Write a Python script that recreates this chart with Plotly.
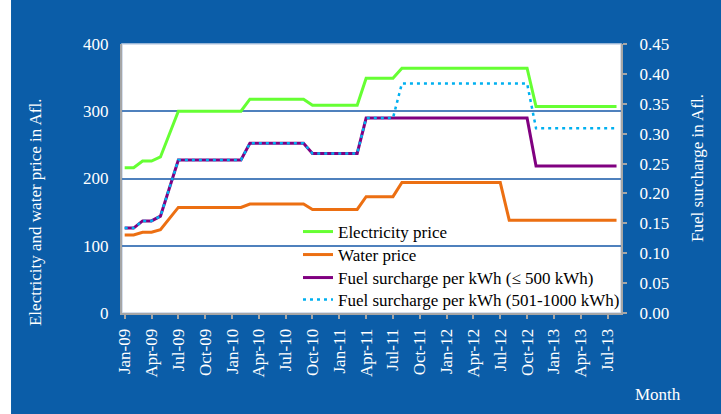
import plotly.graph_objects as go

months = [
    "Jan-09", "Feb-09", "Mar-09", "Apr-09", "May-09", "Jun-09", "Jul-09", "Aug-09", "Sep-09", "Oct-09", "Nov-09", "Dec-09",
    "Jan-10", "Feb-10", "Mar-10", "Apr-10", "May-10", "Jun-10", "Jul-10", "Aug-10", "Sep-10", "Oct-10", "Nov-10", "Dec-10",
    "Jan-11", "Feb-11", "Mar-11", "Apr-11", "May-11", "Jun-11", "Jul-11", "Aug-11", "Sep-11", "Oct-11", "Nov-11", "Dec-11",
    "Jan-12", "Feb-12", "Mar-12", "Apr-12", "May-12", "Jun-12", "Jul-12", "Aug-12", "Sep-12", "Oct-12", "Nov-12", "Dec-12",
    "Jan-13", "Feb-13", "Mar-13", "Apr-13", "May-13", "Jun-13", "Jul-13", "Aug-13",
]

electricity = [
    216, 216, 226, 226, 232, 266, 300, 300, 300, 300, 300, 300,
    300, 300, 318, 318, 318, 318, 318, 318, 318, 309, 309, 309,
    309, 309, 309, 349, 349, 349, 349, 364, 364, 364, 364, 364,
    364, 364, 364, 364, 364, 364, 364, 364, 364, 364, 307, 307,
    307, 307, 307, 307, 307, 307, 307, 307,
]

water = [
    116, 116, 120, 120, 124, 141, 157, 157, 157, 157, 157, 157,
    157, 157, 162, 162, 162, 162, 162, 162, 162, 154, 154, 154,
    154, 154, 154, 173, 173, 173, 173, 194, 194, 194, 194, 194,
    194, 194, 194, 194, 194, 194, 194, 138, 138, 138, 138, 138,
    138, 138, 138, 138, 138, 138, 138, 138,
]

fuel_low = [
    0.142, 0.142, 0.154, 0.154, 0.162, 0.209, 0.256, 0.256, 0.256, 0.256, 0.256, 0.256,
    0.256, 0.256, 0.284, 0.284, 0.284, 0.284, 0.284, 0.284, 0.284, 0.267, 0.267, 0.267,
    0.267, 0.267, 0.267, 0.326, 0.326, 0.326, 0.326, 0.326, 0.326, 0.326, 0.326, 0.326,
    0.326, 0.326, 0.326, 0.326, 0.326, 0.326, 0.326, 0.326, 0.326, 0.326, 0.246, 0.246,
    0.246, 0.246, 0.246, 0.246, 0.246, 0.246, 0.246, 0.246,
]

fuel_high = [
    0.142, 0.142, 0.154, 0.154, 0.162, 0.209, 0.256, 0.256, 0.256, 0.256, 0.256, 0.256,
    0.256, 0.256, 0.284, 0.284, 0.284, 0.284, 0.284, 0.284, 0.284, 0.267, 0.267, 0.267,
    0.267, 0.267, 0.267, 0.326, 0.326, 0.326, 0.326, 0.384, 0.384, 0.384, 0.384, 0.384,
    0.384, 0.384, 0.384, 0.384, 0.384, 0.384, 0.384, 0.384, 0.384, 0.384, 0.309, 0.309,
    0.309, 0.309, 0.309, 0.309, 0.309, 0.309, 0.309, 0.309,
]

tick_months = ["Jan-09", "Apr-09", "Jul-09", "Oct-09", "Jan-10", "Apr-10", "Jul-10", "Oct-10",
               "Jan-11", "Apr-11", "Jul-11", "Oct-11", "Jan-12", "Apr-12", "Jul-12", "Oct-12",
               "Jan-13", "Apr-13", "Jul-13"]

FONT = "'Liberation Serif', 'Times New Roman', Times, serif"
BLUE = "#0B5DA8"
AXIS_GRAY = "#A6A6A6"

fig = go.Figure()
fig.add_trace(go.Scatter(x=months, y=electricity, name="Electricity price", mode="lines",
                         line=dict(color="#66FF33", width=3), legend="legend"))
fig.add_trace(go.Scatter(x=months, y=water, name="Water price", mode="lines",
                         line=dict(color="#EC6F12", width=3), legend="legend2"))
fig.add_trace(go.Scatter(x=months, y=fuel_low, name="Fuel surcharge per kWh (\u2264 500 kWh)", mode="lines",
                         line=dict(color="#800080", width=3), yaxis="y2", legend="legend3"))
fig.add_trace(go.Scatter(x=months, y=fuel_high, name="Fuel surcharge per kWh (501-1000 kWh)", mode="lines",
                         line=dict(color="#00B0F0", width=2.5, dash="3px,4px"), yaxis="y2",
                         legend="legend4"))


def legend_box(ypos):
    return dict(x=0.3527, y=ypos, xanchor="left", yanchor="middle",
                bgcolor="rgba(0,0,0,0)", borderwidth=0,
                font=dict(family=FONT, size=17, color="black"))


fig.update_layout(
    width=721, height=414,
    margin=dict(l=122, r=100, t=44, b=101),
    paper_bgcolor="white", plot_bgcolor="white",
    font=dict(family=FONT, size=17, color="white"),
    showlegend=True,
    legend=legend_box(0.3011),
    legend2=legend_box(0.2156),
    legend3=legend_box(0.1301),
    legend4=legend_box(0.0483),
    xaxis=dict(type="category", range=[-0.3, 55.5],
               tickmode="array", tickvals=tick_months, ticktext=tick_months,
               tickangle=-90, showline=True, linecolor=AXIS_GRAY, linewidth=2,
               ticks="outside", ticklen=4, tickcolor=AXIS_GRAY, tickwidth=1.5,
               ticklabelstandoff=3,
               showgrid=False, zeroline=False,
               tickfont=dict(family=FONT, size=17, color="white")),
    yaxis=dict(range=[0, 400], dtick=100, showline=True, linecolor=AXIS_GRAY, linewidth=2,
               showgrid=True, gridcolor="#4F81BD", gridwidth=1.5, zeroline=False,
               ticks="", ticklabelstandoff=8,
               tickfont=dict(family=FONT, size=17, color="white")),
    yaxis2=dict(range=[0, 0.45], dtick=0.05, tickformat=".2f", overlaying="y", side="right",
                showline=True, linecolor=AXIS_GRAY, linewidth=2,
                ticks="outside", ticklen=4, tickcolor=AXIS_GRAY, tickwidth=1.5,
                ticklabelstandoff=9,
                showgrid=False, zeroline=False,
                tickfont=dict(family=FONT, size=17, color="white")),
    shapes=[
        dict(type="rect", xref="paper", yref="paper", x0=-0.2224, x1=1.3, y0=-0.5, y1=1.3,
             fillcolor=BLUE, line=dict(width=0), layer="below"),
        dict(type="rect", xref="paper", yref="paper", x0=0, x1=1, y0=0, y1=1,
             fillcolor="white", line=dict(color="#C8D4E6", width=1.5), layer="below"),
    ],
    annotations=[
        dict(text="Electricity and water price in Afl.", xref="paper", yref="paper",
             x=-0.1723, y=0.3755, xanchor="center", yanchor="middle",
             textangle=-90, showarrow=False,
             font=dict(family=FONT, size=17, color="white")),
        dict(text="Fuel surcharge in Afl.", xref="paper", yref="paper",
             x=1.1523, y=0.539, xanchor="center", yanchor="middle",
             textangle=-90, showarrow=False,
             font=dict(family=FONT, size=17, color="white")),
        dict(text="Month", xref="paper", yref="paper",
             x=1.0741, y=-0.3048, xanchor="center", yanchor="middle", showarrow=False,
             font=dict(family=FONT, size=17, color="white")),
    ],
)

fig.write_html("out.html", config={"displayModeBar": False},
               post_script="document.body.style.margin='0';")
